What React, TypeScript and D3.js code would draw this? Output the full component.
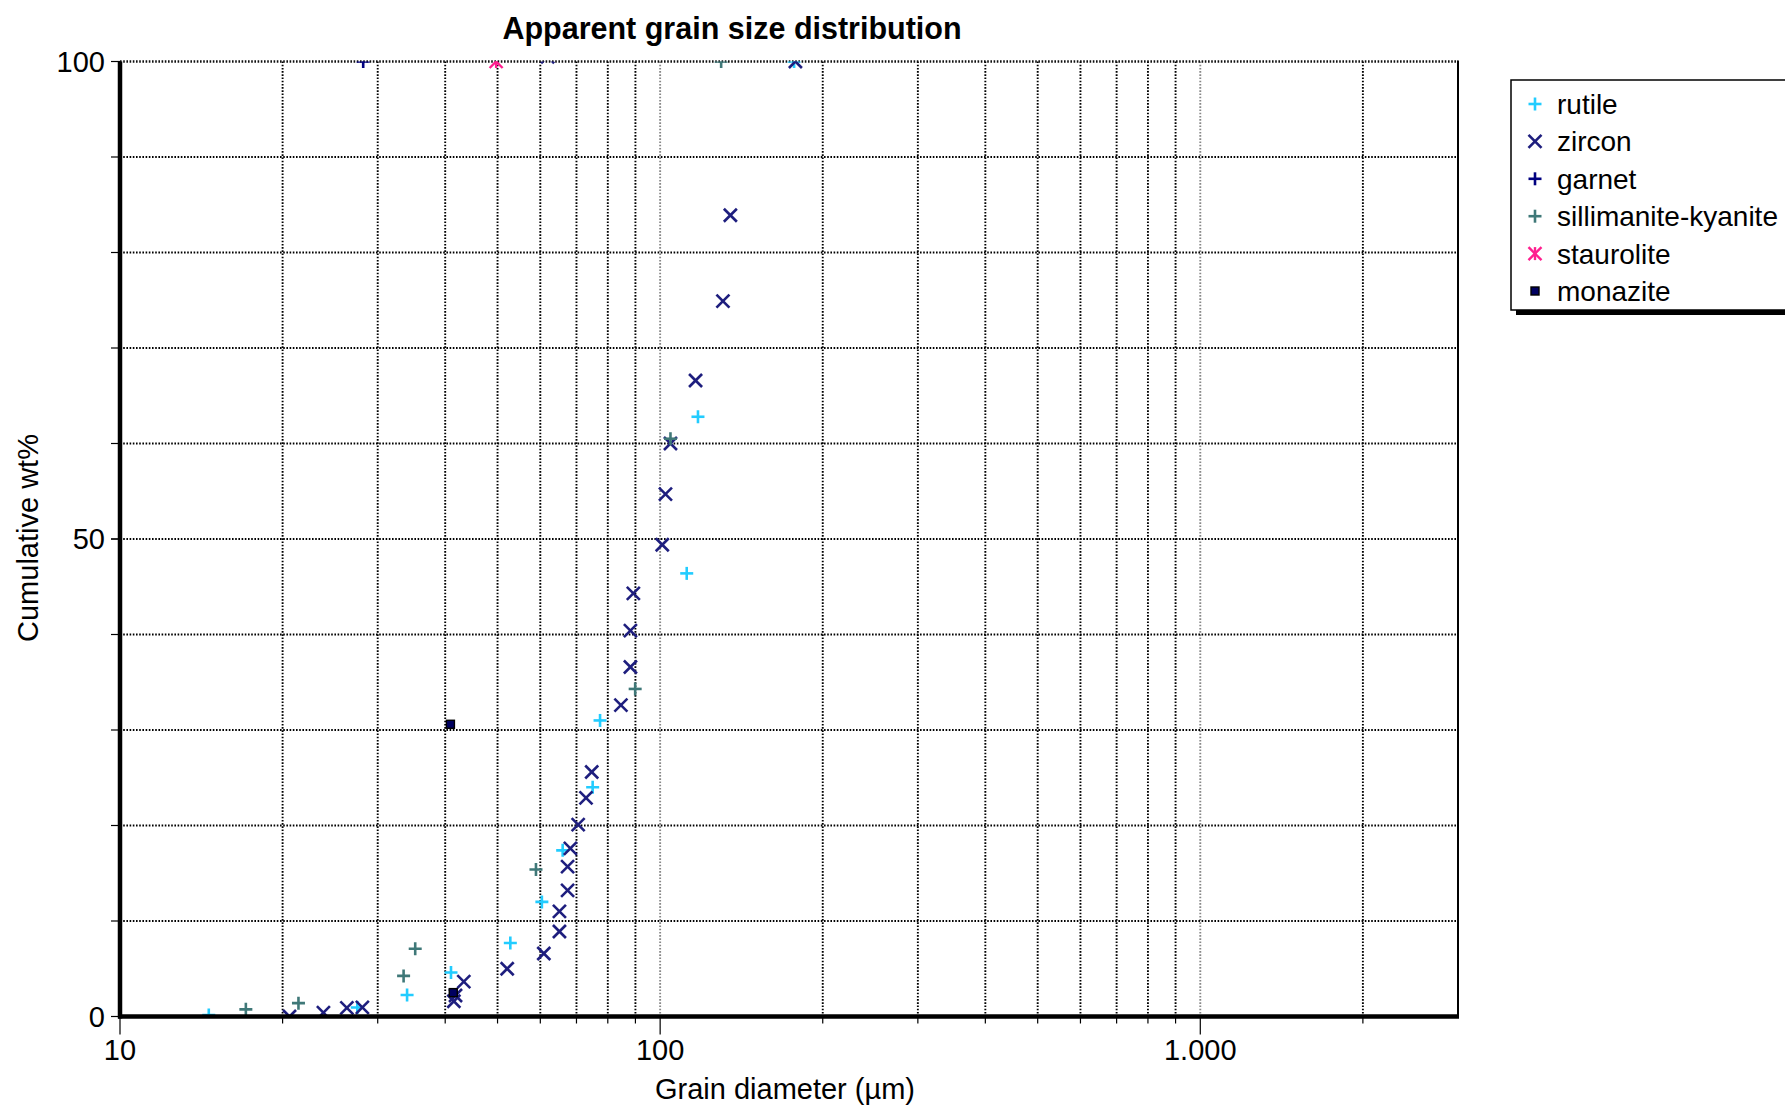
import React from "react";
import * as d3 from "d3";

// grain diameter (µm) and cumulative wt% per mineral
const rutileX = [14.6, 27.5, 34.0, 41.0, 52.8, 60.4, 66.0, 75.0, 77.4, 112, 117.5, 177];
const rutileY = [0.15, 0.95, 2.25, 4.6, 7.7, 12.0, 17.4, 24.0, 31.0, 46.4, 62.8, 100];

const zirconX = [20.6, 23.8, 26.3, 28.1, 41.5, 41.8, 43.3, 52.1, 60.9, 65.1, 65.1, 67.4, 67.4, 68.2, 70.5, 72.9, 74.7, 84.6, 88.1, 88.1, 89.2, 100.9, 102.3, 104.5, 116.3, 130.7, 134.9, 61.9, 178];
const zirconY = [0.0, 0.4, 0.9, 0.95, 1.6, 2.2, 3.65, 5.0, 6.6, 8.9, 11.0, 13.2, 15.7, 17.6, 20.1, 22.9, 25.6, 32.6, 36.6, 40.4, 44.3, 49.4, 54.7, 60.0, 66.6, 74.9, 83.9, 100.5, 100];

const garnetX = [28.2];
const garnetY = [100];

const sillX = [17.1, 21.4, 33.5, 35.2, 58.9, 89.9, 104.5, 129.7];
const sillY = [0.75, 1.4, 4.25, 7.1, 15.4, 34.3, 60.5, 100];

const stauroliteX = [49.7];
const stauroliteY = [100];

const monaziteX = [40.9, 41.4];
const monaziteY = [30.6, 2.5];

const seriesNames = ["rutile", "zircon", "garnet", "sillimanite-kyanite", "staurolite", "monazite"];
const seriesColors = ["#22ccff", "#1e1e7e", "#000080", "#3f7878", "#ff1f8f", "#000060"];
const seriesShapes = ["plus", "cross", "plus", "plus", "star", "square"];
const seriesX = [rutileX, zirconX, garnetX, sillX, stauroliteX, monaziteX];
const seriesY = [rutileY, zirconY, garnetY, sillY, stauroliteY, monaziteY];

const minorGrid = [20, 30, 40, 50, 60, 70, 80, 90, 200, 300, 400, 500, 600, 700, 800, 900, 2000];
const majorGrid = [100, 1000];
const xTickLabels = [
  { v: 10, t: "10" },
  { v: 100, t: "100" },
  { v: 1000, t: "1.000" },
];
const yGrid = [10, 20, 30, 40, 50, 60, 70, 80, 90];
const yTickLabels = [0, 50, 100];

const W = 1785;
const H = 1110;
const left = 120;
const right = 1458;
const top = 61.5;
const bottom = 1016.5;
const font = "'Liberation Sans', Arial, sans-serif";

const x = d3.scaleLog().domain([10, 3000]).range([left, right]);
const y = d3.scaleLinear().domain([0, 100]).range([bottom, top]);

function Marker({ shape, cx, cy, color }) {
  const s = 6.5;
  if (shape === "plus") {
    return (
      <g stroke={color} strokeWidth={2.6}>
        <line x1={cx - s} y1={cy} x2={cx + s} y2={cy} />
        <line x1={cx} y1={cy - s} x2={cx} y2={cy + s} />
      </g>
    );
  }
  if (shape === "cross") {
    return (
      <g stroke={color} strokeWidth={2.6}>
        <line x1={cx - s} y1={cy - s} x2={cx + s} y2={cy + s} />
        <line x1={cx - s} y1={cy + s} x2={cx + s} y2={cy - s} />
      </g>
    );
  }
  if (shape === "star") {
    return (
      <g stroke={color} strokeWidth={2.4}>
        <line x1={cx - s} y1={cy - s} x2={cx + s} y2={cy + s} />
        <line x1={cx - s} y1={cy + s} x2={cx + s} y2={cy - s} />
        <line x1={cx} y1={cy - s} x2={cx} y2={cy + s} />
      </g>
    );
  }
  return <rect x={cx - 4} y={cy - 4} width={8} height={8} fill={color} stroke="#000" strokeWidth={1.4} />;
}

export default function App() {
  const dot = "1.6 1.6";
  return (
    <svg width={W} height={H} style={{ position: "absolute", left: 0, top: 0, background: "#fff" }}>
      <defs>
        <clipPath id="plot">
          <rect x={left} y={top} width={right - left} height={bottom - top} />
        </clipPath>
      </defs>
      <rect width={W} height={H} fill="#fff" />

      <text x={732} y={39} textAnchor="middle" fontFamily={font} fontWeight="bold" fontSize={30.5}>
        Apparent grain size distribution
      </text>

      {/* grid */}
      {minorGrid.map((v) => (
        <line key={"vx" + v} x1={x(v)} x2={x(v)} y1={top} y2={bottom} stroke="#000" strokeWidth={1.9} strokeDasharray={dot} />
      ))}
      {majorGrid.map((v) => (
        <line key={"vm" + v} x1={x(v)} x2={x(v)} y1={top} y2={bottom} stroke="#888" strokeWidth={1.9} strokeDasharray={dot} />
      ))}
      {yGrid.map((v) => (
        <line key={"hy" + v} x1={left} x2={right} y1={y(v)} y2={y(v)} stroke="#000" strokeWidth={1.9} strokeDasharray={dot} />
      ))}
      <line x1={left} x2={right} y1={top} y2={top} stroke="#111" strokeWidth={2.4} strokeDasharray={dot} />
      <line x1={right} x2={right} y1={top - 1} y2={bottom} stroke="#000" strokeWidth={2} />

      {/* points */}
      <g clipPath="url(#plot)">
        {seriesNames.map((name, i) =>
          seriesX[i].map((v, j) => (
            <Marker key={name + j} shape={seriesShapes[i]} cx={x(v)} cy={y(seriesY[i][j])} color={seriesColors[i]} />
          ))
        )}
      </g>

      {/* axes */}
      <line x1={left} x2={left} y1={top} y2={bottom + 2} stroke="#000" strokeWidth={4.5} />
      <line x1={left - 2} x2={right + 1} y1={bottom} y2={bottom} stroke="#000" strokeWidth={4.5} />
      {yGrid.concat(yTickLabels).map((v) => (
        <line key={"yt" + v} x1={left - 9} x2={left} y1={y(v)} y2={y(v)} stroke="#000" strokeWidth={1.2} />
      ))}
      {yTickLabels.map((v) => (
        <text key={"yl" + v} x={105} y={y(v)} dy="0.36em" textAnchor="end" fontFamily={font} fontSize={29}>
          {v}
        </text>
      ))}
      {minorGrid.map((v) => (
        <line key={"xt" + v} x1={x(v)} x2={x(v)} y1={bottom} y2={bottom + 7} stroke="#000" strokeWidth={1.2} />
      ))}
      {xTickLabels.map((d) => (
        <g key={"xl" + d.v}>
          <line x1={x(d.v)} x2={x(d.v)} y1={bottom} y2={bottom + 18} stroke="#000" strokeWidth={1.2} />
          <text x={x(d.v)} y={1060} textAnchor="middle" fontFamily={font} fontSize={29}>
            {d.t}
          </text>
        </g>
      ))}

      <text x={785} y={1099} textAnchor="middle" fontFamily={font} fontSize={29}>
        Grain diameter (µm)
      </text>
      <text transform="translate(38,538) rotate(-90)" textAnchor="middle" fontFamily={font} fontSize={29}>
        Cumulative wt%
      </text>

      {/* legend */}
      <rect x={1516} y={85} width={300} height={230} fill="#000" />
      <rect x={1511} y={80} width={300} height={230} fill="#fff" stroke="#000" strokeWidth={1.5} />
      {seriesNames.map((name, i) => (
        <g key={"lg" + name}>
          <Marker shape={seriesShapes[i]} cx={1535} cy={104 + i * 37.4} color={seriesColors[i]} />
          <text x={1557} y={104 + i * 37.4} dy="0.36em" fontFamily={font} fontSize={28}>
            {name}
          </text>
        </g>
      ))}
    </svg>
  );
}
